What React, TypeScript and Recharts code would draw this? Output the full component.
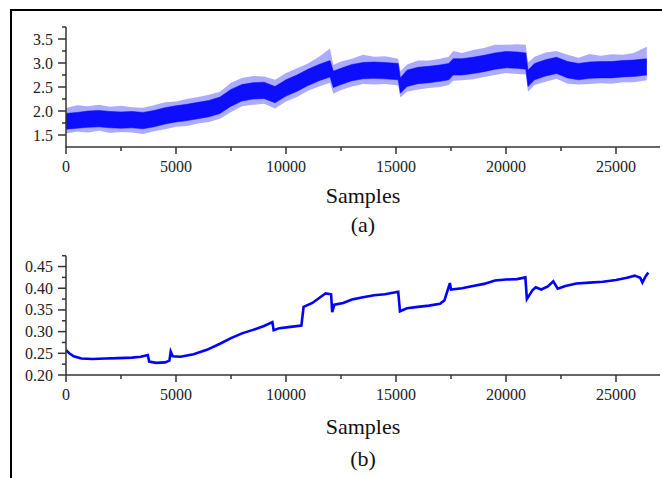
import { Area, ComposedChart, Line, XAxis, YAxis } from 'recharts';

const FONT = '"Liberation Serif", "Times New Roman", serif';
const BLUE = '#0000ff';
const AXIS = '#333333';

// top panel (a): noisy signal, drawn as a core band plus a lighter spike band
const topSamples = [
  0, 500, 1000, 1500, 2000, 2500, 3000, 3500, 4000, 4500, 5000, 5500, 6000, 6500, 7000, 7500, 8000,
  8500, 9000, 9500, 10000, 10500, 11000, 11500, 12000, 12150, 12500, 13000, 13500, 14000, 14500,
  15100, 15200, 15500, 16000, 16500, 17000, 17400, 17600, 18000, 18500, 19000, 19500, 20000, 20500,
  20900, 21000, 21300, 21800, 22300, 22800, 23300, 23800, 24300, 24800, 25300, 25800, 26400,
];
const topSpikeLow = [
  1.53, 1.57, 1.55, 1.59, 1.54, 1.56, 1.55, 1.52, 1.58, 1.62, 1.67, 1.69, 1.74, 1.77, 1.84, 1.98, 2.10,
  2.13, 2.15, 2.05, 2.20, 2.29, 2.42, 2.51, 2.59, 2.36, 2.44, 2.51, 2.56, 2.55, 2.56,
  2.53, 2.28, 2.40, 2.45, 2.48, 2.50, 2.54, 2.63, 2.64, 2.66, 2.71, 2.75, 2.79, 2.77,
  2.76, 2.40, 2.54, 2.61, 2.67, 2.57, 2.55, 2.56, 2.58, 2.57, 2.60, 2.60, 2.64,
];
const topCoreLow = [
  1.62, 1.64, 1.66, 1.67, 1.65, 1.64, 1.65, 1.63, 1.67, 1.73, 1.77, 1.80, 1.84, 1.88, 1.95, 2.10, 2.21,
  2.25, 2.26, 2.17, 2.31, 2.41, 2.53, 2.63, 2.71, 2.49, 2.55, 2.63, 2.67, 2.68, 2.67,
  2.65, 2.37, 2.51, 2.57, 2.59, 2.62, 2.65, 2.75, 2.75, 2.78, 2.82, 2.87, 2.90, 2.89,
  2.87, 2.51, 2.65, 2.73, 2.78, 2.69, 2.65, 2.68, 2.69, 2.69, 2.71, 2.72, 2.75,
];
const topCoreHigh = [
  1.95, 1.97, 2.00, 2.01, 1.99, 1.98, 1.99, 1.97, 2.01, 2.07, 2.11, 2.14, 2.18, 2.22, 2.29, 2.45, 2.55,
  2.59, 2.60, 2.51, 2.65, 2.75, 2.87, 2.97, 3.05, 2.83, 2.89, 2.97, 3.01, 3.02, 3.01,
  2.99, 2.69, 2.85, 2.91, 2.93, 2.96, 2.99, 3.09, 3.09, 3.12, 3.16, 3.21, 3.24, 3.23,
  3.21, 2.85, 2.99, 3.07, 3.12, 3.03, 2.99, 3.02, 3.03, 3.03, 3.05, 3.06, 3.09,
];
const topSpikeHigh = [
  2.06, 2.12, 2.10, 2.13, 2.09, 2.11, 2.08, 2.07, 2.12, 2.18, 2.20, 2.25, 2.29, 2.34, 2.40, 2.59, 2.69,
  2.73, 2.72, 2.65, 2.79, 2.89, 2.99, 3.13, 3.30, 2.96, 3.03, 3.09, 3.17, 3.13, 3.14,
  3.09, 2.83, 2.97, 3.05, 3.05, 3.09, 3.13, 3.25, 3.21, 3.27, 3.31, 3.38, 3.38, 3.39,
  3.38, 3.01, 3.13, 3.22, 3.25, 3.17, 3.11, 3.19, 3.15, 3.18, 3.17, 3.21, 3.34,
];

// bottom panel (b)
const botSamples = [
  0, 150, 350, 700, 1200, 1800, 2400, 3000, 3400, 3720, 3780, 4100, 4500, 4700, 4760, 4850, 5200,
  5800, 6400, 7000, 7500, 8000, 8500, 9000, 9380, 9440, 9700, 10200, 10700, 10800, 11200, 11600,
  11800, 12050, 12100, 12200, 12600, 13000, 13500, 14000, 14500, 15100, 15180, 15500, 16000, 16500,
  17000, 17200, 17450, 17500, 18000, 18500, 19000, 19500, 20000, 20500, 20880, 20950, 21200, 21350,
  21600, 21900, 22150, 22350, 22700, 23200, 23800, 24400, 25000, 25500, 25850, 26100, 26200, 26350,
  26470,
];
const botValues = [
  0.257, 0.25, 0.243, 0.238, 0.237, 0.238, 0.239, 0.24, 0.242, 0.246, 0.231, 0.228, 0.229, 0.233,
  0.254, 0.243, 0.242, 0.248, 0.258, 0.272, 0.285, 0.296, 0.304, 0.313, 0.322, 0.303, 0.308, 0.311,
  0.314, 0.357, 0.366, 0.381, 0.388, 0.386, 0.345, 0.362, 0.366, 0.374, 0.379, 0.384, 0.386, 0.392,
  0.347, 0.354, 0.357, 0.36, 0.364, 0.372, 0.412, 0.397, 0.4, 0.405, 0.41, 0.418, 0.42, 0.421, 0.425,
  0.375, 0.395, 0.402, 0.397, 0.404, 0.416, 0.399, 0.405, 0.411, 0.413, 0.415, 0.419, 0.424, 0.429,
  0.424, 0.413, 0.428, 0.436,
];

const xTicks = [0, 2500, 5000, 7500, 10000, 12500, 15000, 17500, 20000, 22500, 25000];
const topYTicks = [1.5, 1.75, 2.0, 2.25, 2.5, 2.75, 3.0, 3.25, 3.5, 3.75];
const topYMajor = [1.5, 2.0, 2.5, 3.0, 3.5];
const botYTicks = [0.2, 0.225, 0.25, 0.275, 0.3, 0.325, 0.35, 0.375, 0.4, 0.425, 0.45, 0.475];
const botYMajor = [0.2, 0.25, 0.3, 0.35, 0.4, 0.45];

const topData = topSamples.map((s, i) => ({
  s,
  spike: [topSpikeLow[i], topSpikeHigh[i]],
  core: [topCoreLow[i], topCoreHigh[i]],
}));
const botData = botSamples.map((s, i) => ({ s, v: botValues[i] }));

const labelStyle = { fontFamily: FONT, fontSize: 16, fill: '#222' };

const XTick = (props: any) => {
  const { x, y, payload } = props;
  const major = payload.value % 5000 === 0;
  return (
    <g>
      <line x1={x} y1={y} x2={x} y2={y + (major ? 7 : 4)} stroke={AXIS} strokeWidth={1.5} />
      {major && (
        <text x={x} y={y + 25} textAnchor="middle" style={labelStyle}>
          {payload.value}
        </text>
      )}
    </g>
  );
};

const makeYTick = (majors: number[], digits: number) => (props: any) => {
  const { x, y, payload } = props;
  const major = majors.some((m) => Math.abs(m - payload.value) < 1e-6);
  return (
    <g>
      <line x1={x} y1={y} x2={x - (major ? 8 : 4)} y2={y} stroke={AXIS} strokeWidth={1.5} />
      {major && (
        <text x={x - 13} y={y + 5.5} textAnchor="end" style={labelStyle}>
          {payload.value.toFixed(digits)}
        </text>
      )}
    </g>
  );
};

const TopYTick = makeYTick(topYMajor, 1);
const BotYTick = makeYTick(botYMajor, 2);

const axisLine = { stroke: AXIS, strokeWidth: 1.5 };

export default function App() {
  return (
    <div
      style={{
        position: 'absolute',
        left: 0,
        top: 0,
        width: 662,
        height: 478,
        overflow: 'hidden',
        background: '#fff',
        fontFamily: FONT,
      }}
    >
      <div
        style={{
          position: 'absolute',
          left: 10,
          top: 9,
          width: 700,
          height: 500,
          borderTop: '2px solid #000',
          borderLeft: '2px solid #000',
        }}
      />
      <div style={{ position: 'absolute', left: 0, top: 0 }}>
        <ComposedChart width={662} height={200} data={topData} margin={{ top: 27, right: 2, left: 0, bottom: 23 }}>
          <XAxis
            dataKey="s"
            type="number"
            domain={[0, 27000]}
            ticks={xTicks}
            interval={0}
            tickSize={0}
            tickMargin={0}
            tickLine={false}
            axisLine={axisLine}
            tick={<XTick />}
            height={30}
          />
          <YAxis
            type="number"
            domain={[1.25, 3.75]}
            ticks={topYTicks}
            interval={0}
            tickSize={0}
            tickMargin={0}
            tickLine={false}
            axisLine={axisLine}
            tick={<TopYTick />}
            width={66}
          />
          <Area
            type="linear"
            dataKey="spike"
            stroke="none"
            fill={BLUE}
            fillOpacity={0.33}
            isAnimationActive={false}
          />
          <Area
            type="linear"
            dataKey="core"
            stroke={BLUE}
            strokeWidth={0.5}
            fill={BLUE}
            fillOpacity={0.92}
            isAnimationActive={false}
          />
        </ComposedChart>
      </div>
      <div style={{ position: 'absolute', left: 0, top: 240 }}>
        <ComposedChart width={662} height={200} data={botData} margin={{ top: 15.7, right: 2, left: 0, bottom: 35 }}>
          <XAxis
            dataKey="s"
            type="number"
            domain={[0, 27000]}
            ticks={xTicks}
            interval={0}
            tickSize={0}
            tickMargin={0}
            tickLine={false}
            axisLine={axisLine}
            tick={<XTick />}
            height={30}
          />
          <YAxis
            type="number"
            domain={[0.2, 0.475]}
            ticks={botYTicks}
            interval={0}
            tickSize={0}
            tickMargin={0}
            tickLine={false}
            axisLine={axisLine}
            tick={<BotYTick />}
            width={66}
          />
          <Line
            type="linear"
            dataKey="v"
            stroke={BLUE}
            strokeWidth={2.6}
            dot={false}
            isAnimationActive={false}
          />
        </ComposedChart>
      </div>
      <svg width={662} height={478} style={{ position: 'absolute', left: 0, top: 0, pointerEvents: 'none' }}>
        <g style={{ fontFamily: FONT, fontSize: 22, fill: '#111' }} textAnchor="middle">
          <text x={363} y={203}>Samples</text>
          <text x={363} y={232}>(a)</text>
          <text x={363} y={434}>Samples</text>
          <text x={363} y={466}>(b)</text>
        </g>
      </svg>
    </div>
  );
}
